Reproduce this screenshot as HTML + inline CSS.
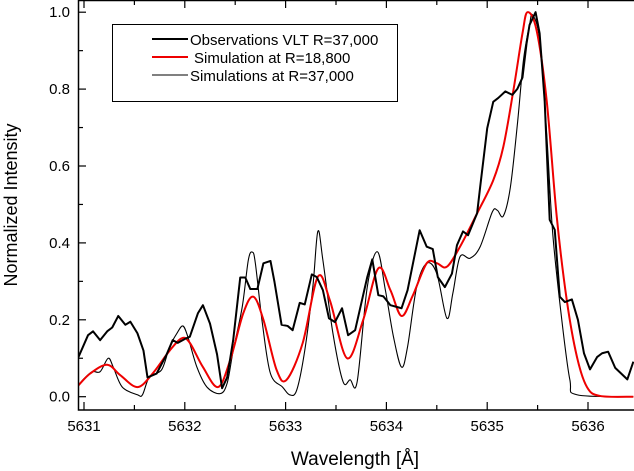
<!DOCTYPE html>
<html><head><meta charset="utf-8"><style>
body{margin:0;background:#fff;}
svg{display:block;font-family:"Liberation Sans",Arial,sans-serif;}
</style></head><body>
<svg id="chart" width="634" height="471" viewBox="0 0 634 471">
<defs><clipPath id="clip"><rect x="78" y="0" width="556" height="410"/></clipPath></defs>
<g id="grid"></g>
<g id="series" clip-path="url(#clip)"></g>
<rect x="78.5" y="0.5" width="560" height="409.5" fill="none" stroke="#000" stroke-width="1.5"/>
<g id="axes"></g>
<text x="355" y="465" font-size="19" text-anchor="middle">Wavelength [Å]</text>
<text transform="translate(17,205) rotate(-90)" font-size="18" text-anchor="middle">Normalized Intensity</text>
<g>
<rect x="112.5" y="24.5" width="285" height="77" fill="#fff" stroke="#000" stroke-width="1"/>
<line x1="152" y1="39" x2="188" y2="39" stroke="#000" stroke-width="2"/>
<text x="190" y="45" font-size="15">Observations VLT R=37,000</text>
<line x1="152" y1="57" x2="188" y2="57" stroke="#e00" stroke-width="2"/>
<text x="194" y="63" font-size="15">Simulation at R=18,800</text>
<line x1="152" y1="75" x2="188" y2="75" stroke="#000" stroke-width="1"/>
<text x="190" y="81" font-size="15">Simulations at R=37,000</text>
</g>
</svg>
<script>
const obsW=[5630.93,5631.04,5631.09,5631.16,5631.23,5631.28,5631.34,5631.41,5631.46,5631.53,5631.59,5631.63,5631.72,5631.82,5631.88,5631.93,5632.00,5632.05,5632.13,5632.18,5632.25,5632.32,5632.37,5632.42,5632.48,5632.55,5632.60,5632.65,5632.72,5632.78,5632.85,5632.89,5632.96,5633.02,5633.07,5633.14,5633.19,5633.26,5633.31,5633.37,5633.43,5633.49,5633.56,5633.62,5633.69,5633.81,5633.86,5633.92,5633.97,5634.04,5634.15,5634.21,5634.33,5634.40,5634.46,5634.51,5634.58,5634.65,5634.70,5634.76,5634.81,5634.90,5634.93,5635.00,5635.06,5635.11,5635.18,5635.25,5635.30,5635.35,5635.39,5635.42,5635.48,5635.52,5635.57,5635.62,5635.67,5635.72,5635.77,5635.84,5635.90,5635.96,5636.02,5636.09,5636.14,5636.20,5636.27,5636.39,5636.45];
const obsV=[0.094,0.16,0.17,0.147,0.17,0.18,0.21,0.187,0.195,0.165,0.12,0.05,0.06,0.11,0.147,0.14,0.15,0.156,0.217,0.238,0.19,0.11,0.022,0.05,0.147,0.31,0.31,0.28,0.28,0.347,0.353,0.298,0.187,0.184,0.173,0.244,0.24,0.318,0.311,0.277,0.204,0.194,0.23,0.16,0.173,0.311,0.357,0.264,0.261,0.238,0.23,0.277,0.433,0.39,0.384,0.311,0.285,0.32,0.394,0.43,0.42,0.477,0.545,0.698,0.767,0.777,0.794,0.785,0.801,0.83,0.918,0.967,1.0,0.945,0.77,0.46,0.434,0.26,0.246,0.253,0.2,0.113,0.071,0.103,0.113,0.117,0.075,0.045,0.091];
const redW=[5630.93,5631.06,5631.23,5631.36,5631.53,5631.68,5631.85,5631.97,5632.05,5632.18,5632.33,5632.45,5632.58,5632.68,5632.78,5632.91,5633.01,5633.17,5633.32,5633.44,5633.61,5633.77,5633.92,5634.04,5634.15,5634.26,5634.40,5634.50,5634.60,5634.73,5634.90,5635.06,5635.16,5635.26,5635.35,5635.40,5635.49,5635.59,5635.69,5635.79,5635.89,5635.99,5636.12,5636.45];
const redV=[0.025,0.06,0.083,0.056,0.025,0.06,0.12,0.152,0.14,0.077,0.025,0.095,0.217,0.26,0.2,0.07,0.044,0.14,0.312,0.25,0.1,0.2,0.334,0.277,0.21,0.262,0.347,0.347,0.338,0.39,0.477,0.563,0.65,0.797,0.945,1.0,0.953,0.77,0.468,0.25,0.104,0.025,0.002,0.0];
const thinW=[5630.93,5630.99,5631.08,5631.16,5631.24,5631.29,5631.38,5631.53,5631.58,5631.65,5631.77,5631.85,5631.92,5631.98,5632.03,5632.12,5632.22,5632.35,5632.42,5632.48,5632.57,5632.63,5632.67,5632.70,5632.77,5632.85,5632.97,5633.04,5633.11,5633.19,5633.27,5633.32,5633.37,5633.47,5633.57,5633.64,5633.71,5633.81,5633.91,5633.99,5634.07,5634.15,5634.21,5634.30,5634.40,5634.50,5634.60,5634.66,5634.73,5634.83,5634.93,5635.05,5635.10,5635.16,5635.23,5635.30,5635.36,5635.42,5635.45,5635.52,5635.59,5635.65,5635.74,5635.82,5635.89,5636.45];
const thinV=[0.025,0.044,0.065,0.065,0.1,0.077,0.025,0.005,0.005,0.052,0.07,0.13,0.164,0.184,0.156,0.077,0.025,0.008,0.035,0.12,0.234,0.355,0.376,0.347,0.19,0.06,0.025,0.005,0.017,0.12,0.285,0.43,0.355,0.164,0.039,0.044,0.039,0.285,0.377,0.277,0.156,0.077,0.13,0.285,0.347,0.32,0.204,0.27,0.364,0.36,0.39,0.48,0.485,0.47,0.545,0.71,0.876,0.967,0.993,0.928,0.685,0.425,0.2,0.044,0.005,0.0];
const xTicks=[5631,5632,5633,5634,5635,5636];
const yTicks=[0,0.2,0.4,0.6,0.8,1.0];
const yTickLabels=["0.0","0.2","0.4","0.6","0.8","1.0"];

const X=w=>84+(w-5631)*100.8;
const Y=v=>396.7-v*384.5;
const NS="http://www.w3.org/2000/svg";
function mk(tag,attrs,parent){const e=document.createElementNS(NS,tag);for(const k in attrs)e.setAttribute(k,attrs[k]);parent.appendChild(e);return e;}
function smooth(pts){let d=`M${pts[0][0]},${pts[0][1]}`;for(let i=0;i<pts.length-1;i++){const p0=pts[i-1]||pts[i],p1=pts[i],p2=pts[i+1],p3=pts[i+2]||p2;const c1=[p1[0]+(p2[0]-p0[0])/6,p1[1]+(p2[1]-p0[1])/6],c2=[p2[0]-(p3[0]-p1[0])/6,p2[1]-(p3[1]-p1[1])/6];d+=`C${c1[0]},${c1[1]} ${c2[0]},${c2[1]} ${p2[0]},${p2[1]}`;}return d;}
const ser=document.getElementById('series');
const thin=mk('path',{d:smooth(thinW.map((w,i)=>[X(w),Y(thinV[i])])),fill:'none',stroke:'#000','stroke-width':1.1},ser);


const red=mk('path',{d:smooth(redW.map((w,i)=>[X(w),Y(redV[i])])),fill:'none',stroke:'#e00','stroke-width':2},ser);


const obs=mk('polyline',{points:obsW.map((w,i)=>X(w)+','+Y(obsV[i])).join(' '),fill:'none',stroke:'#000','stroke-width':2,'stroke-linejoin':'round'},ser);


const ax=document.getElementById('axes');
for(let w=5631;w<=5636.5;w+=0.5){const x=X(w),maj=Math.abs(w-Math.round(w))<0.01,L=maj?8:5;
 mk('line',{x1:x,y1:410,x2:x,y2:410-L,stroke:'#000','stroke-width':1.2},ax);
 mk('line',{x1:x,y1:0,x2:x,y2:L,stroke:'#000','stroke-width':1.2},ax);}
xTicks.forEach(w=>{const t=mk('text',{x:X(w),y:431,'font-size':15,'text-anchor':'middle'},ax);t.textContent=w;
 
 });
for(let v=0;v<=1.01;v+=0.1){const y=Y(v),maj=Math.round(v*10)%2===0,L=maj?8:5;
 mk('line',{x1:78,y1:y,x2:78+L,y2:y,stroke:'#000','stroke-width':1.2},ax);}
yTicks.forEach((v,i)=>{const t=mk('text',{x:70,y:Y(v)+5,'font-size':15,'text-anchor':'end'},ax);t.textContent=yTickLabels[i];
 
 });
</script>
</body></html>
